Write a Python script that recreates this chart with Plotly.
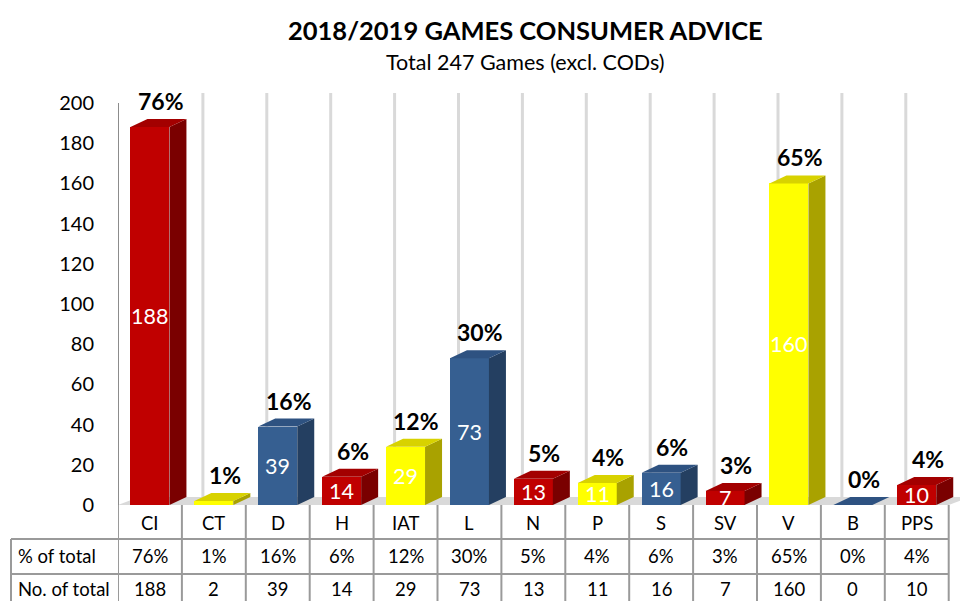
import plotly.graph_objects as go

# Chart data
categories = ["CI", "CT", "D", "H", "IAT", "L", "N", "P", "S", "SV", "V", "B", "PPS"]
counts = [188, 2, 39, 14, 29, 73, 13, 11, 16, 7, 160, 0, 10]
pct_of_total = [76, 1, 16, 6, 12, 30, 5, 4, 6, 3, 65, 0, 4]
colour_group = ["red", "yellow", "blue", "red", "yellow", "blue", "red",
                "yellow", "blue", "red", "yellow", "blue", "red"]
y_ticks = [0, 20, 40, 60, 80, 100, 120, 140, 160, 180, 200]
row_labels = ["% of total", "No. of total"]

title_text = "2018/2019 GAMES CONSUMER ADVICE"
subtitle_text = "Total 247 Games (excl. CODs)"

# Shading for the three faces of each column: front, top, side
PALETTE = {
    "red": ("#c00000", "#a30000", "#7a0000"),
    "yellow": ("#ffff00", "#d8d200", "#a9a200"),
    "blue": ("#365f91", "#2e5281", "#243f61"),
}

FONT = "Lato"
W, H = 960, 601
LEFT = 118                      # left edge of the plotting area (px)
CAT_PX = 63.9                   # width of one category (px)
ZERO_PX = 505                   # vertical pixel of y = 0
PX_PER_UNIT = 2.01              # pixels per unit on the value axis

BAR_W = 0.61                    # front face width (category units)
DEPTH_X = 17 / CAT_PX           # oblique depth of a column, x
DEPTH_Y = 8 / PX_PER_UNIT       # oblique depth of a column, y
WALL_X = 21 / CAT_PX            # back wall offset, x

x_range = [-0.5, -0.5 + (W - LEFT) / CAT_PX]
y_range = [(ZERO_PX - H) / PX_PER_UNIT, ZERO_PX / PX_PER_UNIT]


def px_to_paper_x(px):
    return (px - LEFT) / (W - LEFT)


def px_to_paper_y(py):
    return 1 - py / H


def px_to_y(py):
    return (ZERO_PX - py) / PX_PER_UNIT


fig = go.Figure()
shapes = []
annotations = []
n = len(categories)

# Floor of the 3D plot (behind the columns)
fx0, fx1 = -0.5, n - 0.5
shapes.append(dict(
    type="path", xref="x", yref="y", layer="below",
    path=(f"M {fx0},0 L {fx1},0 L {fx1 + WALL_X},{DEPTH_Y} "
          f"L {fx0 + WALL_X},{DEPTH_Y} Z"),
    fillcolor="#d9d9d9", line=dict(width=0),
))

# Vertical gridlines on the back wall, between categories
for b in range(n - 1):
    gx = b + 0.5 + WALL_X
    shapes.append(dict(type="line", xref="x", yref="y", layer="below",
                       x0=gx, x1=gx, y0=DEPTH_Y, y1=px_to_y(93),
                       line=dict(color="#d9d9d9", width=3)))

# Top and side faces, grouped by colour
for group, (front, top, side) in PALETTE.items():
    tx, ty, sx, sy = [], [], [], []
    for i, (v, g) in enumerate(zip(counts, colour_group)):
        if g != group:
            continue
        l, r = i - BAR_W / 2, i + BAR_W / 2
        tx += [l, r, r + DEPTH_X, l + DEPTH_X, l, None]
        ty += [v, v, v + DEPTH_Y, v + DEPTH_Y, v, None]
        sx += [r, r + DEPTH_X, r + DEPTH_X, r, r, None]
        sy += [0, DEPTH_Y, v + DEPTH_Y, v, 0, None]
    fig.add_trace(go.Scatter(x=sx, y=sy, mode="lines", fill="toself",
                             fillcolor=side, line=dict(width=0),
                             hoverinfo="skip", showlegend=False))
    fig.add_trace(go.Scatter(x=tx, y=ty, mode="lines", fill="toself",
                             fillcolor=top, line=dict(width=0),
                             hoverinfo="skip", showlegend=False))

# Front faces of the columns
fig.add_trace(go.Bar(
    x=list(range(n)), y=counts, width=BAR_W,
    marker=dict(color=[PALETTE[c][0] for c in colour_group], line=dict(width=0)),
    hoverinfo="skip", showlegend=False,
))

# Percentage labels above each column, counts inside
for i, (v, p) in enumerate(zip(counts, pct_of_total)):
    annotations.append(dict(
        x=i + 0.17, y=v + DEPTH_Y, xref="x", yref="y",
        text=f"<b>{p}%</b>", showarrow=False, xanchor="center", yanchor="bottom",
        yshift=2, font=dict(family=FONT, size=23, color="#000000"),
    ))
    if v >= 5:
        annotations.append(dict(
            x=i, y=v / 2, xref="x", yref="y", text=str(v), showarrow=False,
            xanchor="center", yanchor="middle",
            font=dict(family=FONT, size=21.5, color="#ffffff"),
        ))

# Data table under the chart
table_line = dict(color="#9a9a9a", width=2)
row_tops = [539, 574]
table_left_px, table_right_px = 11, LEFT + n * CAT_PX
for b in range(n + 1):
    shapes.append(dict(type="line", xref="x", yref="y",
                       x0=b - 0.5, x1=b - 0.5, y0=0, y1=y_range[0],
                       line=table_line))
shapes.append(dict(type="line", xref="paper", yref="paper",
                   x0=px_to_paper_x(table_left_px), x1=px_to_paper_x(table_left_px),
                   y0=px_to_paper_y(row_tops[0]), y1=0, line=table_line))
for ry in row_tops:
    shapes.append(dict(type="line", xref="paper", yref="paper",
                       x0=px_to_paper_x(table_left_px), x1=px_to_paper_x(table_right_px),
                       y0=px_to_paper_y(ry), y1=px_to_paper_y(ry), line=table_line))

# Left axis line
shapes.append(dict(type="line", xref="x", yref="y", x0=-0.5, x1=-0.5,
                   y0=0, y1=200, line=dict(color="#8c8c8c", width=2)))

table_font = dict(family=FONT, size=18.5, color="#000000")
row_centres = [523, 556, 589]
for i, cat in enumerate(categories):
    row_texts = [cat, f"{pct_of_total[i]}%", str(counts[i])]
    for txt, cy in zip(row_texts, row_centres):
        annotations.append(dict(x=i, y=px_to_y(cy), xref="x", yref="y", text=txt,
                                showarrow=False, xanchor="center", yanchor="middle",
                                font=table_font))
for lbl, cy in zip(row_labels, row_centres[1:]):
    annotations.append(dict(x=px_to_paper_x(16), y=px_to_paper_y(cy), xref="paper",
                            yref="paper", text=lbl, showarrow=False, xanchor="left",
                            yanchor="middle", font=table_font))

# Titles
annotations.append(dict(x=px_to_paper_x(525), y=px_to_paper_y(30), xref="paper",
                        yref="paper", text=f"<b>{title_text}</b>", showarrow=False,
                        xanchor="center", yanchor="middle",
                        font=dict(family=FONT, size=25.5, color="#000000")))
annotations.append(dict(x=px_to_paper_x(525), y=px_to_paper_y(62), xref="paper",
                        yref="paper", text=subtitle_text, showarrow=False,
                        xanchor="center", yanchor="middle",
                        font=dict(family=FONT, size=21.5, color="#000000")))

fig.update_layout(
    width=W, height=H,
    margin=dict(l=LEFT, r=0, t=0, b=0),
    paper_bgcolor="#ffffff", plot_bgcolor="#ffffff",
    xaxis=dict(range=x_range, showgrid=False, zeroline=False, showticklabels=False,
               showline=False, fixedrange=True),
    yaxis=dict(range=y_range, tickvals=y_ticks, showgrid=False, zeroline=False,
               showline=False, ticks="", ticklabelstandoff=23,
               tickfont=dict(family=FONT, size=20, color="#000000"), fixedrange=True),
    shapes=shapes, annotations=annotations, bargap=0,
)

fig.write_html("out.html")
